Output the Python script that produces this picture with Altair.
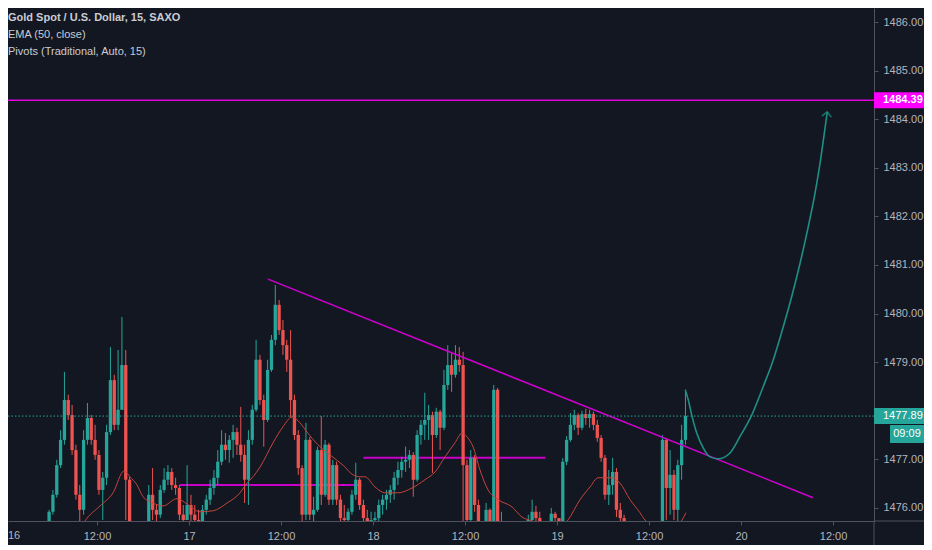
import altair as alt
import pandas as pd

# ---------------- data ----------------
# 30-minute candles; time in hours since 16 Dec 00:00
bar_start_hour = 5.75
bar_step_hours = 0.5
first_open = 1475.55
closes = [1475.92, 1476.27, 1476.88, 1477.40, 1478.22, 1477.91, 1477.19, 1476.27, 1475.96, 1477.40,
          1477.85, 1477.40, 1477.09, 1476.37, 1476.62, 1477.56, 1478.63, 1477.71, 1478.02, 1478.94,
          1476.58, 1475.24, 1475.03, 1474.93, 1475.14, 1475.34, 1476.27, 1475.96, 1475.86, 1476.37,
          1476.58, 1476.74, 1476.47, 1476.41, 1475.86, 1475.75, 1476.06, 1475.86, 1475.75, 1475.65,
          1475.96, 1476.17, 1476.41, 1476.62, 1476.95, 1477.30, 1477.19, 1477.40, 1477.56, 1477.30,
          1477.09, 1476.58, 1477.40, 1478.02, 1479.05, 1478.22, 1477.81, 1478.84, 1479.46, 1480.18,
          1479.66, 1479.35, 1479.05, 1478.22, 1477.50, 1476.82, 1475.86, 1477.40, 1475.86, 1475.96,
          1477.19, 1476.27, 1477.30, 1476.17, 1476.88, 1476.17, 1475.79, 1475.75, 1475.92, 1476.27,
          1476.58, 1476.06, 1475.79, 1475.71, 1475.75, 1475.79, 1476.06, 1476.17, 1476.27, 1476.37,
          1476.62, 1476.78, 1476.95, 1476.99, 1477.09, 1476.58, 1477.50, 1477.71, 1477.81, 1477.91,
          1477.50, 1477.98, 1477.65, 1478.53, 1478.94, 1478.74, 1479.05, 1478.94, 1476.88, 1475.75,
          1477.03, 1476.06, 1475.71, 1475.34, 1475.96, 1475.44, 1478.43, 1475.55, 1475.65, 1475.44,
          1475.34, 1475.24, 1475.34, 1475.44, 1475.55, 1475.75, 1475.92, 1475.79, 1475.71, 1475.55,
          1475.59, 1475.88, 1475.79, 1475.59, 1476.95, 1477.40, 1477.71, 1477.91, 1477.65, 1477.93,
          1477.85, 1477.93, 1477.71, 1477.44, 1477.03, 1476.27, 1476.47, 1476.74, 1475.96, 1475.79,
          1475.73, 1475.55, 1475.44, 1475.34, 1475.34, 1475.44, 1475.34, 1475.55, 1475.55, 1475.65,
          1477.40, 1476.41, 1476.68, 1475.96, 1476.88, 1477.40, 1477.89]
highs = [1475.96, 1476.37, 1476.99, 1477.60, 1478.80, 1478.33, 1478.12, 1477.30, 1476.47, 1477.60,
         1478.16, 1477.91, 1477.71, 1477.19, 1476.74, 1477.71, 1479.31, 1478.74, 1479.25, 1479.93,
         1479.25, 1476.64, 1475.34, 1475.18, 1475.24, 1475.55, 1476.47, 1476.82, 1476.06, 1476.47,
         1476.82, 1476.88, 1476.82, 1476.62, 1476.47, 1476.06, 1476.88, 1476.27, 1476.06, 1475.96,
         1476.06, 1476.27, 1476.58, 1476.78, 1477.19, 1477.60, 1477.54, 1477.50, 1477.71, 1477.65,
         1478.08, 1477.30, 1477.60, 1478.12, 1479.46, 1479.15, 1478.33, 1479.05, 1479.56, 1480.59,
         1480.28, 1479.87, 1479.46, 1479.66, 1478.33, 1477.60, 1476.88, 1477.75, 1477.46, 1476.23,
         1477.26, 1477.89, 1477.40, 1477.34, 1476.99, 1476.95, 1476.27, 1476.06, 1475.99, 1476.37,
         1476.93, 1476.62, 1476.17, 1475.96, 1475.92, 1475.92, 1476.17, 1476.27, 1476.37, 1476.47,
         1476.74, 1476.95, 1477.05, 1477.26, 1477.19, 1477.15, 1477.60, 1477.81, 1478.37, 1478.12,
         1477.98, 1478.06, 1478.02, 1478.84, 1479.35, 1479.21, 1479.35, 1479.31, 1479.21, 1476.99,
         1477.19, 1477.09, 1476.17, 1475.71, 1476.10, 1475.99, 1478.53, 1478.47, 1475.92, 1475.67,
         1475.55, 1475.44, 1475.51, 1475.65, 1475.71, 1475.86, 1476.17, 1476.04, 1475.92, 1475.71,
         1475.71, 1476.00, 1475.92, 1475.79, 1477.03, 1477.48, 1477.95, 1478.02, 1477.95, 1478.00,
         1478.04, 1478.02, 1477.98, 1477.81, 1477.50, 1477.09, 1476.78, 1477.03, 1476.82, 1476.10,
         1475.86, 1475.73, 1475.59, 1475.51, 1475.44, 1475.55, 1475.49, 1475.61, 1475.65, 1475.71,
         1477.50, 1477.44, 1477.19, 1476.78, 1476.99, 1477.71, 1478.43]
lows = [1475.44, 1475.86, 1476.21, 1476.82, 1477.30, 1477.81, 1477.09, 1476.17, 1475.34, 1475.86,
        1477.30, 1477.30, 1476.99, 1476.27, 1475.75, 1476.47, 1477.50, 1477.60, 1477.60, 1478.02,
        1475.75, 1475.14, 1474.83, 1474.72, 1474.83, 1474.97, 1475.34, 1475.75, 1475.65, 1475.79,
        1476.31, 1476.47, 1476.37, 1476.27, 1475.75, 1475.55, 1475.75, 1475.65, 1475.55, 1475.44,
        1475.55, 1475.86, 1476.06, 1476.27, 1476.47, 1476.88, 1476.99, 1476.93, 1477.03, 1477.09,
        1476.95, 1476.10, 1476.06, 1477.30, 1477.98, 1478.12, 1477.26, 1477.77, 1478.80, 1479.35,
        1479.56, 1479.15, 1478.80, 1477.85, 1477.40, 1476.68, 1475.65, 1475.75, 1475.75, 1475.65,
        1475.92, 1476.06, 1476.23, 1476.06, 1476.06, 1476.06, 1475.65, 1475.59, 1475.65, 1475.86,
        1476.17, 1475.96, 1475.65, 1475.59, 1475.55, 1475.59, 1475.71, 1475.86, 1475.96, 1476.10,
        1476.17, 1476.47, 1476.62, 1476.74, 1476.82, 1476.23, 1476.54, 1477.30, 1477.40, 1477.40,
        1476.72, 1477.44, 1477.19, 1477.60, 1478.43, 1478.39, 1478.68, 1478.80, 1475.55, 1475.59,
        1475.71, 1475.92, 1475.59, 1475.14, 1475.14, 1475.24, 1475.34, 1475.44, 1475.44, 1475.24,
        1475.14, 1475.03, 1475.14, 1475.24, 1475.34, 1475.44, 1475.65, 1475.71, 1475.59, 1475.38,
        1475.44, 1475.55, 1475.65, 1475.44, 1475.55, 1476.88, 1477.36, 1477.60, 1477.50, 1477.60,
        1477.71, 1477.65, 1477.60, 1477.36, 1476.95, 1476.17, 1476.06, 1476.27, 1475.81, 1475.71,
        1475.63, 1475.38, 1475.24, 1475.14, 1475.14, 1475.24, 1475.18, 1475.24, 1475.38, 1475.44,
        1475.55, 1475.75, 1475.86, 1475.75, 1475.71, 1476.58, 1477.30]

# EMA (50, close) as drawn
ema_t = [9.13, 10.43, 12.39, 14.09, 15.52, 16.30, 17.22, 18.00, 19.30, 20.61, 22.43, 23.74, 25.43,
         27.13, 28.96, 30.65, 31.56, 32.35, 33.26, 34.96, 36.26, 37.43, 38.48, 39.39, 40.82, 42.39,
         44.09, 45.39, 46.30, 46.95, 48.26, 49.56, 51.26, 53.09, 54.78, 56.09, 57.39, 58.69, 59.61,
         60.26, 61.04, 61.95, 63.00, 64.30, 66.13, 67.43, 68.74, 70.43, 71.74, 73.43, 75.00, 76.30,
         77.35, 78.91, 80.21, 81.52, 82.82, 83.47, 85.43, 87.39, 88.30, 88.82]
ema_v = [1475.34, 1475.73, 1476.04, 1476.31, 1476.76, 1476.64, 1476.47, 1476.23, 1476.10, 1476.04,
         1476.19, 1476.08, 1475.92, 1475.94, 1476.10, 1476.31, 1476.51, 1476.64, 1476.84, 1477.34,
         1477.67, 1477.87, 1477.75, 1477.56, 1477.30, 1477.09, 1476.88, 1476.68, 1476.64, 1476.64,
         1476.43, 1476.31, 1476.31, 1476.41, 1476.58, 1476.74, 1477.05, 1477.34, 1477.54, 1477.46,
         1477.26, 1476.78, 1476.37, 1476.17, 1476.02, 1475.81, 1475.73, 1475.55, 1475.51, 1475.75,
         1476.17, 1476.43, 1476.62, 1476.62, 1476.51, 1476.17, 1475.90, 1475.75, 1475.55, 1475.59,
         1475.75, 1475.90]

# hand-drawn projection curve
fc_t = [88.73, 89.12, 89.57, 90.22, 91.08, 91.95, 93.04, 94.56, 95.87, 97.39, 98.90, 100.21,
        101.51, 102.61, 103.69, 104.77, 105.65, 106.30, 106.86, 107.25]
fc_v = [1478.43, 1478.22, 1477.91, 1477.54, 1477.23, 1477.05, 1477.01, 1477.13, 1477.47, 1477.91,
        1478.50, 1479.05, 1479.73, 1480.35, 1481.03, 1481.79, 1482.48, 1483.09, 1483.71, 1484.15]

# descending trendline
trend_t = [34.30, 105.39]
trend_v = [1480.71, 1476.21]

# daily pivot segments
pivot_start = [22.75, 46.75]
pivot_end = [46.50, 70.50]
pivot_level = [1476.47, 1477.03]

target_level = [1484.39]
last_price = [1477.89]
countdown = ["09:09"]

x_tick_hours = [12, 24, 36, 48, 60, 72, 84, 96, 108]
first_day_label = ["16"]
y_tick_values = [1476, 1477, 1479, 1480, 1481, 1482, 1483, 1484, 1485, 1486]
header_lines = ["Gold Spot / U.S. Dollar, 15, SAXO", "EMA (50, close)", "Pivots (Traditional, Auto, 15)"]

# ---------------- styling ----------------
BG = "#131722"
UP = "#26a69a"
DOWN = "#ef5350"
TXT = "#b2b5be"
AXLINE = "#50535e"
MAGENTA = "#e000e0"
FONT = "Liberation Sans, Roboto, sans-serif"
PX_PER_HOUR = 7.667
X_START = 0.39
W, H = 866, 513
AXW, AXH = 50, 24

opens = [first_open] + closes[:-1]
times = [bar_start_hour + bar_step_hours * i for i in range(len(closes))]
candles = pd.DataFrame({"t": times, "open": opens, "close": closes, "high": highs, "low": lows})
ema = pd.DataFrame({"t": ema_t, "v": ema_v})
fc = pd.DataFrame({"t": fc_t, "v": fc_v})
trend = pd.DataFrame({"t": trend_t, "v": trend_v})
piv = pd.DataFrame({"t": pivot_start, "t2": pivot_end, "v": pivot_level})
tgt = pd.DataFrame({"v": target_level})
last = pd.DataFrame({"v": last_price, "cd": countdown})

xs = alt.Scale(domain=[X_START, X_START + W / PX_PER_HOUR], nice=False, zero=False)
ys = alt.Scale(domain=[1475.73, 1486.29], nice=False, zero=False)
x_axis = alt.Axis(values=x_tick_hours, grid=False, title=None,
                  labelExpr="datum.value % 24 == 0 ? '' + (16 + datum.value / 24) : '12:00'",
                  domainColor=AXLINE, tickColor=AXLINE, tickSize=4, labelPadding=5,
                  labelColor=TXT, labelFont=FONT, labelFontSize=11, labelOverlap=False)
y_axis = alt.Axis(values=y_tick_values, format=".2f", orient="right", grid=False, title=None,
                  domainColor=AXLINE, tickColor=AXLINE, tickSize=4, labelPadding=5,
                  labelColor=TXT, labelFont=FONT, labelFontSize=11, labelOverlap=False)


def X(f):
    return alt.X(f"{f}:Q", scale=xs, axis=x_axis)


def Y(f):
    return alt.Y(f"{f}:Q", scale=ys, axis=y_axis)


updown = alt.condition("datum.close >= datum.open", alt.value(UP), alt.value(DOWN))

pivots = alt.Chart(piv).mark_rule(color="#c800c8", strokeWidth=2, clip=True).encode(
    x=X("t"), x2="t2:Q", y=Y("v"))

wicks = alt.Chart(candles).mark_rule(strokeWidth=1, clip=True).encode(
    x=X("t"), y=Y("low"), y2="high:Q", color=updown)
bodies = alt.Chart(candles).mark_rule(strokeWidth=3.3, strokeCap="butt", clip=True).encode(
    x=X("t"), y=Y("open"), y2="close:Q", color=updown)

ema_line = alt.Chart(ema).mark_line(color="#c4453b", strokeWidth=1, interpolate="monotone",
                                    clip=True).encode(x=X("t"), y=Y("v"))

trend_line = alt.Chart(trend).mark_line(color="#d000d0", strokeWidth=1.5, clip=True).encode(
    x=X("t"), y=Y("v"))

target_line = alt.Chart(tgt).mark_rule(color=MAGENTA, strokeWidth=1.5).encode(y=Y("v"))
last_line = alt.Chart(last).mark_rule(color=UP, strokeWidth=1, strokeDash=[1.5, 2]).encode(y=Y("v"))

fc_line = alt.Chart(fc).mark_line(color="#1f8f84", strokeWidth=1.6, interpolate="monotone",
                                  clip=True).encode(x=X("t"), y=Y("v"))
fc_head = alt.Chart(fc.tail(1)).mark_point(shape="M -1 1 L 0 0 L 1 1", filled=False, size=90,
                                           angle=8, strokeWidth=1.6, color="#1f8f84").encode(
    x=X("t"), y=Y("v"))

# frame lines continuing into the price-scale column
frame_h = alt.Chart(tgt).mark_rule(color=AXLINE, strokeWidth=1).encode(
    x=alt.value(W), x2=alt.value(W + AXW), y=alt.value(H))
frame_v = alt.Chart(tgt).mark_rule(color=AXLINE, strokeWidth=1).encode(
    x=alt.value(W), y=alt.value(H), y2=alt.value(H + AXH))

# first day label of the time scale
day16 = alt.Chart(pd.DataFrame({"label": first_day_label})).mark_text(
    align="left", baseline="top", color=TXT, font=FONT, fontSize=11).encode(
    x=alt.value(0), y=alt.value(H + 9), text="label:N")

# price labels on the right scale
tgt_box = alt.Chart(tgt).mark_tick(orient="horizontal", color="#ff00ff", size=AXW, thickness=16,
                                   opacity=1).encode(x=alt.value(W + AXW / 2), y=Y("v"))
tgt_txt = alt.Chart(tgt).mark_text(align="left", baseline="middle", color="white", font=FONT,
                                   fontSize=11, fontWeight="bold").encode(
    x=alt.value(W + 9), y=Y("v"), text=alt.Text("v:Q", format=".2f"))
last_box = alt.Chart(last).mark_tick(orient="horizontal", color=UP, size=AXW, thickness=16,
                                     opacity=1).encode(x=alt.value(W + AXW / 2), y=Y("v"))
last_txt = alt.Chart(last).mark_text(align="left", baseline="middle", color="white", font=FONT,
                                     fontSize=11).encode(
    x=alt.value(W + 9), y=Y("v"), text=alt.Text("v:Q", format=".2f"))
cd_box = alt.Chart(last).mark_tick(orient="horizontal", color=UP, size=34, thickness=18, yOffset=18,
                                   opacity=1).encode(x=alt.value(W + 33), y=Y("v"))
cd_txt = alt.Chart(last).mark_text(align="center", baseline="middle", color="white", font=FONT,
                                   fontSize=11, dy=18).encode(
    x=alt.value(W + 33), y=Y("v"), text="cd:N")

headers = []
for i, (line, yy) in enumerate(zip(header_lines, [13, 30, 47])):
    headers.append(
        alt.Chart(pd.DataFrame({"label": [line]})).mark_text(
            align="left", baseline="alphabetic", color="#c9ccd4", font=FONT, fontSize=11,
            fontWeight="bold" if i == 0 else "normal").encode(
            x=alt.value(0), y=alt.value(yy), text="label:N"))

chart = alt.layer(
    pivots, wicks, bodies, ema_line, trend_line, target_line, last_line, fc_line, fc_head,
    frame_h, frame_v, day16,
    tgt_box, tgt_txt, last_box, last_txt, cd_box, cd_txt, *headers
).properties(
    width=W, height=H, background=BG,
    padding={"left": 0, "top": 0, "right": AXW, "bottom": AXH},
    autosize=alt.AutoSizeParams(type="none"),
).configure_view(stroke="transparent")

chart.save("out.html", embed_options={"renderer": "svg", "actions": False})
